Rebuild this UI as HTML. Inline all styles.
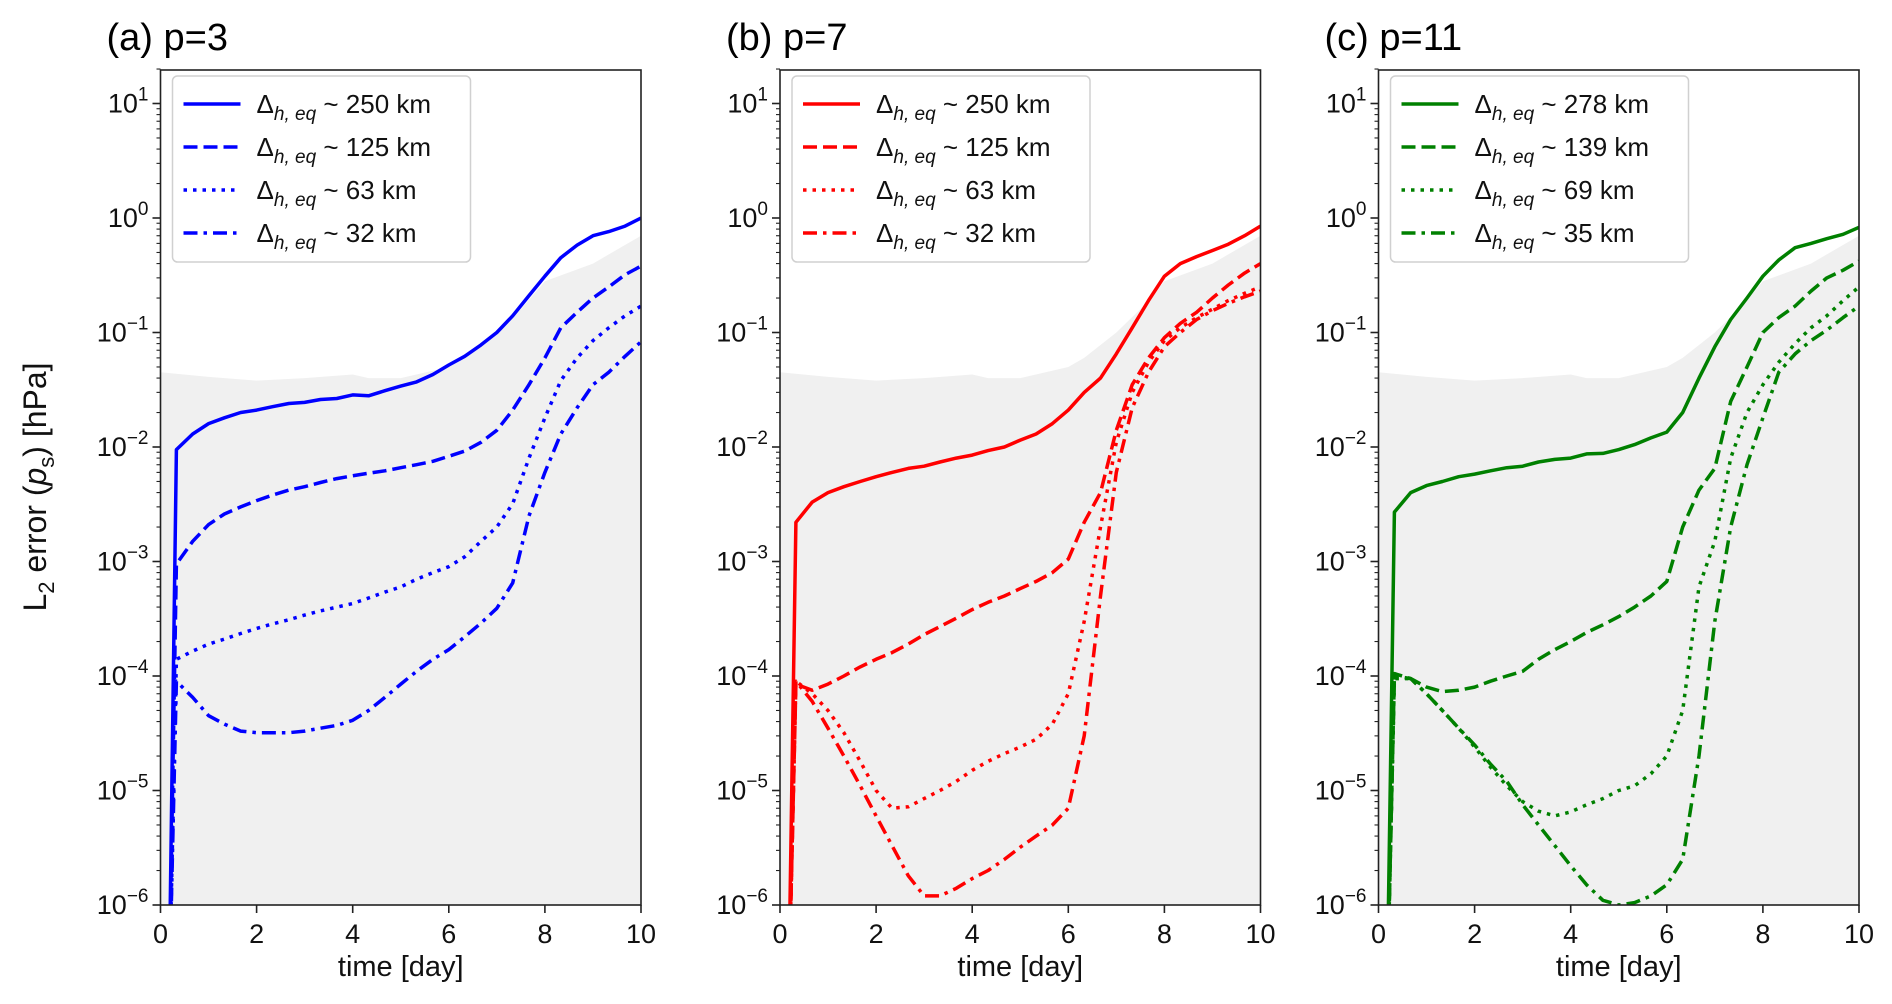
<!DOCTYPE html>
<html><head><meta charset="utf-8"><style>
html,body{margin:0;padding:0;background:#fff;}
svg{display:block;font-family:"Liberation Sans","DejaVu Sans",sans-serif;}
</style></head><body>
<svg id="chart" width="1892" height="1004" viewBox="0 0 1892 1004" xmlns="http://www.w3.org/2000/svg"></svg>
<script>
const timesA = [0.17,0.33,0.67,1,1.33,1.67,2,2.33,2.67,3,3.33,3.67,4,4.33,4.67,5,5.33,5.67,6,6.33,6.67,7,7.33,7.67,8,8.33,8.67,9,9.33,9.67,10];
const panelTitles = ["(a) p=3","(b) p=7","(c) p=11"];
const panelColors = ["#0000ff","#ff0000","#008000"];
const legendKm = [["250","125","63","32"],["250","125","63","32"],["278","139","69","35"]];
const xTicks = [0,2,4,6,8,10];
const yTickExp = [-6,-5,-4,-3,-2,-1,0,1];
const bandTimes = [0,1,2,3,4,4.33,5,6,6.33,7,7.5,8,9,10];
const bandUpper = [0.045,0.041,0.038,0.04,0.043,0.04,0.04,0.05,0.06,0.1,0.16,0.28,0.4,0.7];
// panel (a)
const a_solid = [1e-7,9.5e-3,1.3e-2,1.6e-2,1.8e-2,2e-2,2.1e-2,2.25e-2,2.4e-2,2.45e-2,2.6e-2,2.65e-2,2.85e-2,2.8e-2,3.1e-2,3.4e-2,3.7e-2,4.3e-2,5.2e-2,6.2e-2,7.8e-2,0.1,0.14,0.21,0.31,0.45,0.58,0.7,0.76,0.85,1.0];
const a_dash = [1e-7,9.5e-4,1.5e-3,2.1e-3,2.6e-3,3.0e-3,3.4e-3,3.8e-3,4.2e-3,4.5e-3,4.9e-3,5.3e-3,5.6e-3,5.9e-3,6.2e-3,6.6e-3,7.0e-3,7.5e-3,8.3e-3,9.2e-3,1.1e-2,1.4e-2,2.1e-2,3.5e-2,6e-2,1.1e-1,1.5e-1,2e-1,2.5e-1,3.2e-1,3.8e-1];
const a_dot = [1e-7,1.4e-4,1.65e-4,1.9e-4,2.1e-4,2.35e-4,2.6e-4,2.85e-4,3.1e-4,3.4e-4,3.7e-4,4e-4,4.3e-4,4.8e-4,5.4e-4,6e-4,7e-4,8e-4,9e-4,1.1e-3,1.5e-3,2e-3,3.2e-3,8e-3,1.8e-2,3.8e-2,6e-2,8.5e-2,1.1e-1,1.4e-1,1.7e-1];
const a_dashdot = [1e-7,9e-5,6.5e-5,4.5e-5,3.8e-5,3.3e-5,3.2e-5,3.2e-5,3.2e-5,3.3e-5,3.5e-5,3.7e-5,4.1e-5,5e-5,6.5e-5,8.5e-5,1.1e-4,1.4e-4,1.7e-4,2.2e-4,2.9e-4,3.9e-4,6.5e-4,2.5e-3,6e-3,1.3e-2,2.2e-2,3.5e-2,4.5e-2,6.2e-2,8.3e-2];
// panel (b)
const b_solid = [1e-7,2.2e-3,3.3e-3,4e-3,4.5e-3,5e-3,5.5e-3,6e-3,6.5e-3,6.8e-3,7.4e-3,8e-3,8.5e-3,9.3e-3,1.0e-2,1.15e-2,1.3e-2,1.6e-2,2.1e-2,3e-2,4e-2,6.5e-2,1.1e-1,1.9e-1,3.1e-1,4e-1,4.6e-1,5.2e-1,5.9e-1,7e-1,8.5e-1];
const b_dash = [1e-7,8.5e-5,7.5e-5,8.5e-5,1.0e-4,1.2e-4,1.4e-4,1.6e-4,1.9e-4,2.3e-4,2.7e-4,3.2e-4,3.8e-4,4.4e-4,5.0e-4,5.8e-4,6.7e-4,8e-4,1.05e-3,2.2e-3,4e-3,1.4e-2,3.5e-2,6e-2,9e-2,1.2e-1,1.5e-1,2e-1,2.6e-1,3.3e-1,4e-1];
const b_dot = [1e-7,9e-5,7e-5,5e-5,3.2e-5,1.8e-5,1e-5,7e-6,7.2e-6,8.5e-6,1e-5,1.2e-5,1.5e-5,1.8e-5,2.1e-5,2.4e-5,2.8e-5,3.8e-5,7e-5,3e-4,2e-3,1.1e-2,3e-2,5.5e-2,8.5e-2,1.1e-1,1.35e-1,1.6e-1,1.9e-1,2.2e-1,2.5e-1];
const b_dashdot = [1e-7,9e-5,6e-5,3.5e-5,2e-5,1.1e-5,6e-6,3.3e-6,1.8e-6,1.2e-6,1.2e-6,1.4e-6,1.7e-6,2e-6,2.5e-6,3.2e-6,4e-6,5e-6,7e-6,3e-5,5e-4,6e-3,2.2e-2,4.5e-2,7.5e-2,1e-1,1.3e-1,1.55e-1,1.8e-1,2.05e-1,2.3e-1];
// panel (c)
const c_solid = [1e-7,2.7e-3,4e-3,4.6e-3,5e-3,5.5e-3,5.8e-3,6.2e-3,6.6e-3,6.8e-3,7.4e-3,7.8e-3,8e-3,8.7e-3,8.8e-3,9.5e-3,1.05e-2,1.2e-2,1.35e-2,2e-2,4e-2,7.5e-2,1.3e-1,2e-1,3.1e-1,4.3e-1,5.5e-1,6e-1,6.6e-1,7.2e-1,8.3e-1];
const c_dash = [1e-7,1.05e-4,9.5e-5,8e-5,7.3e-5,7.5e-5,8e-5,9e-5,1e-4,1.1e-4,1.4e-4,1.7e-4,2e-4,2.4e-4,2.8e-4,3.3e-4,4e-4,5e-4,6.7e-4,2e-3,4.2e-3,6.5e-3,2.5e-2,5e-2,1e-1,1.35e-1,1.7e-1,2.3e-1,3e-1,3.5e-1,4.2e-1];
const c_dot = [1e-7,9.5e-5,9.5e-5,7e-5,5e-5,3.5e-5,2.4e-5,1.6e-5,1.1e-5,8e-6,6.6e-6,6e-6,6.5e-6,7.5e-6,8.5e-6,1e-5,1.1e-5,1.4e-5,2e-5,5e-5,6e-4,1.5e-3,8e-3,2e-2,3.5e-2,5.5e-2,8e-2,1.1e-1,1.4e-1,1.9e-1,2.5e-1];
const c_dashdot = [1e-7,1e-4,9.5e-5,7e-5,5e-5,3.5e-5,2.5e-5,1.7e-5,1.2e-5,7.5e-6,5e-6,3.3e-6,2.2e-6,1.5e-6,1.1e-6,1e-6,1.05e-6,1.2e-6,1.5e-6,2.5e-6,2e-5,3e-4,2e-3,7e-3,1.8e-2,4.5e-2,6.5e-2,8.5e-2,1.05e-1,1.35e-1,1.7e-1];

const panelSeries = [[a_solid,a_dash,a_dot,a_dashdot],[b_solid,b_dash,b_dot,b_dashdot],[c_solid,c_dash,c_dot,c_dashdot]];
const dashes = ["", "14,6", "3.5,6", "14,6,3.5,6"];
const styleNames = ["solid","dashed","dotted","dashdot"];
const NS = "http://www.w3.org/2000/svg";
const svg = document.getElementById('chart');
const panelLeft = [160.5,780,1378.5];
const PW = 480.5, TOP = 70, BOT = 905, Y1 = 103.5;
const DEC = (BOT - Y1)/7;
function mk(tag, attrs, parent){const e=document.createElementNS(NS,tag);for(const k in attrs)e.setAttribute(k,attrs[k]);(parent||svg).appendChild(e);return e;}

const defs = mk('defs',{});
panelLeft.forEach((L,pi)=>{
  const xS = t => L + t/10*PW;
  const yS = v => BOT - (Math.log10(v)+6)*DEC;
  const g = mk('g',{});
  
  
  const cp = mk('clipPath',{id:'clip'+pi},defs);
  mk('rect',{x:L,y:TOP,width:PW,height:BOT-TOP},cp);
  let d = 'M'+xS(bandTimes[0])+','+BOT;
  bandTimes.forEach((t,i)=>{d+=' L'+xS(t)+','+yS(bandUpper[i]);});
  d += ' L'+xS(bandTimes[bandTimes.length-1])+','+BOT+' Z';
  const band = mk('path',{d:d,fill:'#f0f0f0','clip-path':'url(#clip'+pi+')'},g);
  
  
  panelSeries[pi].forEach((vals,si)=>{
    const pts = vals.map((v,i)=>xS(timesA[i]).toFixed(1)+','+yS(v).toFixed(1)).join(' ');
    const pl = mk('polyline',{points:pts,fill:'none',stroke:panelColors[pi],'stroke-width':3.5,'stroke-dasharray':dashes[si],'clip-path':'url(#clip'+pi+')','stroke-linejoin':'round'},g);
    
    
  });
  mk('rect',{x:L,y:TOP,width:PW,height:BOT-TOP,fill:'none',stroke:'#222','stroke-width':1.6},g);
  xTicks.forEach(t=>{
    const x=xS(t);
    mk('line',{x1:x,y1:BOT,x2:x,y2:BOT+8,stroke:'#222','stroke-width':1.6},g);
    const tx=mk('text',{x:x,y:BOT+38,'font-size':27,'text-anchor':'middle',fill:'#111'},g);
    tx.textContent=t;
    
    
  });
  yTickExp.forEach(e=>{
    const y=BOT-(e+6)*DEC;
    mk('line',{x1:L-8,y1:y,x2:L,y2:y,stroke:'#222','stroke-width':1.6},g);
    if(e<1){for(let m=2;m<10;m++){const ym=y-Math.log10(m)*DEC;mk('line',{x1:L-4,y1:ym,x2:L,y2:ym,stroke:'#222','stroke-width':1.1},g);}}
    const tx=mk('text',{x:L-12,y:y+9,'font-size':27,'text-anchor':'end',fill:'#111'},g);
    
    
    const b=mk('tspan',{},tx); b.textContent='10';
    const s=mk('tspan',{'font-size':19,dy:-12},tx); s.textContent=(e<0?'\u2212'+(-e):e);
  });
  {const ym=Y1-Math.log10(2)*DEC;mk('line',{x1:L-4,y1:ym,x2:L,y2:ym,stroke:'#222','stroke-width':1.1},g);}
  const tt=mk('text',{x:L-54,y:50,'font-size':38,fill:'#000'},g);
  tt.textContent=panelTitles[pi];
  
  
  const xl=mk('text',{x:L+PW/2,y:976,'font-size':29,'text-anchor':'middle',fill:'#111'},g);
  xl.textContent='time [day]';
  
  
  const lg=mk('g',{},g);
  
  
  mk('rect',{x:L+12,y:76,width:298,height:186,rx:5,fill:'#fff',stroke:'#d0d0d0','stroke-width':1.5,'fill-opacity':0.85},lg);
  [104,147,190,233].forEach((ry,si)=>{
    const en=mk('g',{},lg);
    
    
    mk('line',{x1:L+23,y1:ry,x2:L+80,y2:ry,stroke:panelColors[pi],'stroke-width':3.5,'stroke-dasharray':dashes[si]},en);
    const t=mk('text',{x:L+96,y:ry+9,'font-size':26,fill:'#111'},en);
    const a=mk('tspan',{},t); a.textContent='\u0394';
    const sb=mk('tspan',{'font-size':19,dy:7,'font-style':'italic'},t); sb.textContent='h, eq';
    const r=mk('tspan',{dy:-7},t); r.textContent=' ~ '+legendKm[pi][si]+' km';
  });
});
const yl=mk('text',{x:0,y:0,'font-size':32,'text-anchor':'middle',fill:'#111',transform:'translate(46,487) rotate(-90)'});


let p=mk('tspan',{},yl);p.textContent='L';
p=mk('tspan',{'font-size':22,dy:8},yl);p.textContent='2';
p=mk('tspan',{dy:-8},yl);p.textContent=' error (';
p=mk('tspan',{'font-style':'italic'},yl);p.textContent='p';
p=mk('tspan',{'font-size':22,dy:8},yl);p.textContent='s';
p=mk('tspan',{dy:-8},yl);p.textContent=') [hPa]';
</script>
</body></html>
